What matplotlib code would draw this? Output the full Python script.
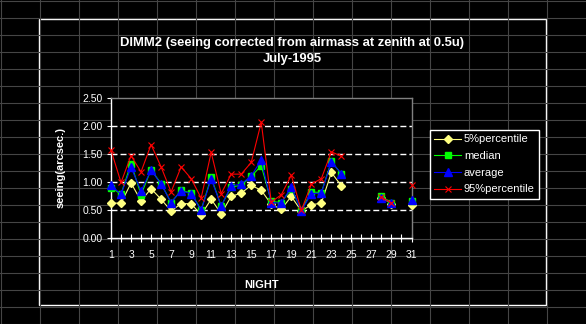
import numpy as np
import matplotlib
matplotlib.use("Agg")
import matplotlib.pyplot as plt
from matplotlib.lines import Line2D
from matplotlib.patches import Rectangle

plt.rcParams['font.family'] = ['Liberation Sans', 'DejaVu Sans']
plt.rcParams['lines.scale_dashes'] = False

nan = np.nan
nights = list(range(1, 32))
p05 = [0.62, 0.62, 0.98, 0.66, 0.88, 0.69, 0.48, 0.61, 0.61, 0.41,
       0.69, 0.43, 0.74, 0.80, 0.94, 0.85, 0.60, 0.51, 0.74, 0.48,
       0.59, 0.62, 1.17, 0.93, nan, nan, nan, 0.72, 0.61, nan, 0.59]
median = [0.90, 0.78, 1.33, 0.77, 1.22, 0.97, 0.63, 0.85, 0.80, 0.50,
          1.08, 0.57, 0.91, 0.94, 1.10, 1.29, 0.65, 0.63, 0.88, 0.50,
          0.82, 0.81, 1.37, 1.14, nan, nan, nan, 0.74, 0.63, nan, 0.66]
average = [0.94, 0.78, 1.26, 0.84, 1.21, 0.96, 0.63, 0.84, 0.79, 0.49,
           1.05, 0.57, 0.93, 0.96, 1.11, 1.39, 0.63, 0.62, 0.91, 0.48,
           0.79, 0.80, 1.36, 1.15, nan, nan, nan, 0.72, 0.62, nan, 0.68]
p95 = [1.57, 0.99, 1.47, 1.18, 1.67, 1.27, 0.82, 1.27, 1.06, 0.71,
       1.53, 0.79, 1.14, 1.14, 1.35, 2.07, 0.64, 0.77, 1.12, 0.49,
       0.96, 1.06, 1.54, 1.46, nan, nan, nan, 0.73, 0.62, nan, 0.94]

W, H = 586, 324
fig = plt.figure(figsize=(W / 100, H / 100), dpi=100)
fig.patch.set_facecolor('black')

# spreadsheet cell grid behind the chart object
grid_col = '#454545'
for x in np.arange(0.75, W, 39.03):
    fig.add_artist(Line2D([x / W, x / W], [0, 1], color=grid_col, lw=0.8))
for y in np.arange(0.7, H, 17.0):
    fig.add_artist(Line2D([0, 1], [1 - y / H, 1 - y / H], color=grid_col, lw=0.8))

# chart object box
fig.add_artist(Rectangle((39.3 / W, 1 - 305.3 / H), (545.6 - 39.3) / W, (305.3 - 18.7) / H,
                         facecolor='black', edgecolor='white', lw=1.0, zorder=1))

ax = fig.add_axes([111 / W, 1 - 237.7 / H, (411.5 - 111) / W, (237.7 - 98.3) / H])
ax.set_facecolor('black')
ax.set_zorder(2)

for yv in [0.5, 1.0, 1.5, 2.0]:
    ax.axhline(yv, color='white', lw=1.0, dashes=(4.3, 2.2), zorder=1)

ax.plot(nights, p05, color='#ffff80', lw=0.8, marker='D', ms=4.5,
        mfc='#ffff80', mec='#ffff80', label='5%percentile', clip_on=False, zorder=3)
ax.plot(nights, median, color='#00ff00', lw=0.8, marker='s', ms=4.8,
        mfc='#00ff00', mec='#00ff00', label='median', clip_on=False, zorder=4)
ax.plot(nights, average, color='#0000ff', lw=0.8, marker='^', ms=5.5,
        mfc='#0000ff', mec='#0000ff', label='average', clip_on=False, zorder=5)
ax.plot(nights, p95, color='#ff0000', lw=0.8, marker='x', ms=4,
        mew=0.8, mfc='#ff0000', mec='#ff0000', label='95%percentile', clip_on=False, zorder=6)

ax.set_xlim(1, 31)
ax.set_ylim(0, 2.5)
ax.set_xticks(nights)
ax.set_xticklabels([str(n) if n % 2 else '' for n in nights])
ax.set_yticks([0, 0.5, 1.0, 1.5, 2.0, 2.5])
ax.set_yticklabels(['0.00', '0.50', '1.00', '1.50', '2.00', '2.50'])
ax.tick_params(axis='x', direction='inout', length=6, width=0.8, color='white',
               labelcolor='white', labelsize=7.5, pad=6)
ax.tick_params(axis='y', direction='out', length=3, width=0.8, color='white',
               labelcolor='white', labelsize=7.5, pad=3)

for s in ['left', 'bottom']:
    ax.spines[s].set_color('white')
    ax.spines[s].set_linewidth(1.0)
for s in ['top', 'right']:
    ax.spines[s].set_color('#808080')
    ax.spines[s].set_linewidth(1.0)

ax.set_xlabel('NIGHT', color='white', fontsize=8, fontweight='bold', labelpad=14)
ax.set_ylabel('seeing(arcsec.)', color='white', fontsize=8, fontweight='bold', labelpad=12)

fig.text(292 / W, 1 - 43 / H, 'DIMM2 (seeing corrected from airmass at zenith at 0.5u)',
         color='white', fontsize=9.4, fontweight='bold', ha='center', va='center')
fig.text(292 / W, 1 - 59 / H, 'July-1995',
         color='white', fontsize=9.4, fontweight='bold', ha='center', va='center')

leg = fig.legend(loc='upper left', bbox_to_anchor=(430 / W, 1 - 130 / H),
                 fontsize=8, frameon=True, fancybox=False, framealpha=1,
                 facecolor='black', edgecolor='white', labelcolor='white',
                 handlelength=2.4, handletextpad=0.25, labelspacing=0.6,
                 borderpad=0.4, borderaxespad=0)
leg.get_frame().set_linewidth(1.0)
leg.set_zorder(10)

fig.savefig('out.png', dpi=100, facecolor='black')
